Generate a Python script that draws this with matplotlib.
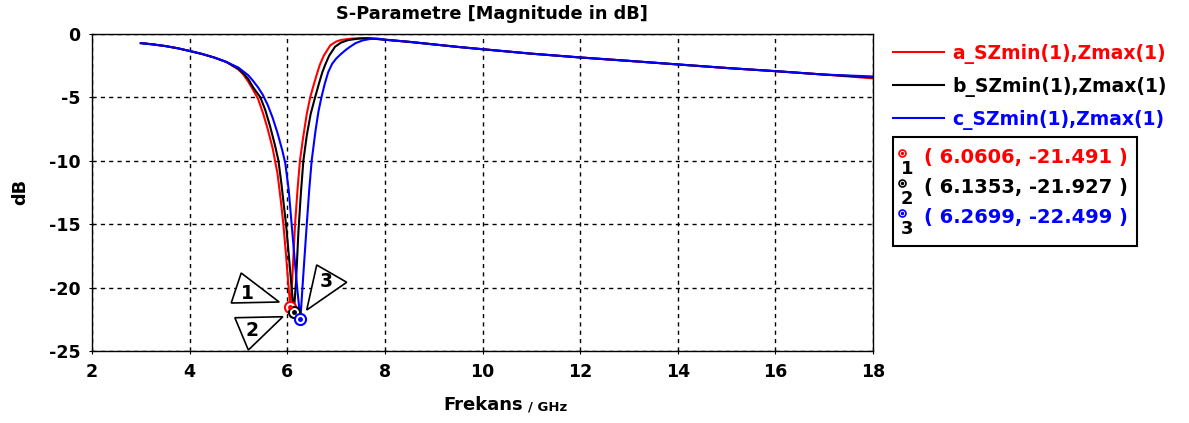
import numpy as np
import matplotlib
matplotlib.use("Agg")
import matplotlib.pyplot as plt
from matplotlib.lines import Line2D
from matplotlib.patches import Polygon, Rectangle
from matplotlib import transforms

plt.rcParams['font.family'] = ['DejaVu Sans']
plt.rcParams['font.weight'] = 'bold'
plt.rcParams['axes.unicode_minus'] = False

# --- data (GHz, dB) ---
start_f = [3.0, 3.25, 3.5, 3.75, 4.0, 4.25, 4.5, 4.75]
start_db = [-0.72, -0.82, -0.95, -1.12, -1.34, -1.57, -1.85, -2.2]
tail_f = [8.0, 8.5, 9.0, 9.5, 10, 11, 12, 13, 14, 15, 16, 17, 18]
tail_db = [-0.45, -0.62, -0.82, -1.02, -1.2, -1.55, -1.85, -2.12, -2.4, -2.68, -2.93, -3.2]

red_f = start_f + [5.0, 5.1, 5.2, 5.3, 5.4, 5.5, 5.6, 5.7, 5.75, 5.8, 5.87, 5.92, 5.97, 6.02, 6.0606,
                   6.10, 6.16, 6.21, 6.26, 6.32, 6.40, 6.47, 6.55, 6.62, 6.67, 6.75, 6.88, 7.0, 7.1, 7.3, 7.5, 7.7] + tail_f
red_db = start_db + [-2.8, -3.2, -3.75, -4.4, -5.1, -6.2, -7.5, -9.0, -10.0, -11.0, -13.2, -15.0, -17.2, -19.6, -21.491,
                     -19.5, -15.0, -12.3, -10.0, -8.3, -6.3, -5.0, -3.9, -3.0, -2.4, -1.7, -0.9, -0.6, -0.47, -0.37, -0.33, -0.34] + tail_db + [-3.5]

blk_f = start_f + [5.0, 5.1, 5.2, 5.3, 5.45, 5.55, 5.65, 5.75, 5.82, 5.88, 5.98, 6.04, 6.09, 6.1353,
                   6.18, 6.23, 6.28, 6.33, 6.40, 6.48, 6.57, 6.65, 6.72, 6.78, 6.86, 6.98, 7.1, 7.25, 7.45, 7.65] + tail_f
blk_db = start_db + [-2.75, -3.1, -3.55, -4.2, -5.0, -6.0, -7.3, -8.8, -10.0, -11.8, -15.2, -17.8, -20.0, -21.927,
                     -19.5, -15.5, -12.5, -10.0, -8.0, -6.3, -5.0, -3.9, -3.0, -2.4, -1.7, -1.0, -0.68, -0.48, -0.37, -0.33] + tail_db + [-3.42]

blu_f = start_f + [5.0, 5.1, 5.2, 5.3, 5.4, 5.5, 5.6, 5.7, 5.8, 5.9, 5.96, 6.03, 6.09, 6.15, 6.21, 6.2699,
                   6.32, 6.40, 6.45, 6.50, 6.58, 6.64, 6.70, 6.77, 6.84, 6.92, 7.0, 7.08, 7.2, 7.29, 7.4, 7.55, 7.7, 7.85] + tail_f
blu_db = start_db + [-2.65, -2.95, -3.25, -3.7, -4.2, -4.8, -5.6, -6.6, -7.8, -9.2, -10.2, -12.3, -15.0, -17.7, -20.3, -22.499,
                     -19.5, -15.0, -12.3, -10.0, -7.6, -6.1, -5.0, -3.9, -3.0, -2.35, -1.95, -1.65, -1.25, -1.0, -0.72, -0.5, -0.39, -0.36] + tail_db + [-3.35]

labels = ['a_SZmin(1),Zmax(1)', 'b_SZmin(1),Zmax(1)', 'c_SZmin(1),Zmax(1)']
colors = ['#ff0000', '#000000', '#0000ff']
mk_f = [6.0606, 6.1353, 6.2699]
mk_db = [-21.491, -21.927, -22.499]

W, H = 1189, 423
fig = plt.figure(figsize=(W / 100, H / 100), dpi=100)
ax = fig.add_axes([92 / W, 1 - 351 / H, (873 - 92) / W, (351 - 34) / H])

series = [(red_f, red_db), (blk_f, blk_db), (blu_f, blu_db)]
lines = []
for (f, db), c, lab in zip(series, colors, labels):
    ln, = ax.plot(f, db, color=c, lw=1.5, label=lab)
    lines.append(ln)

ax.set_xlim(2, 18)
ax.set_ylim(-25, 0)
ax.set_xticks(np.arange(2, 19, 2))
ax.set_yticks(np.arange(-25, 1, 5))
ax.grid(True, color='black', ls=(0, (3, 3)), lw=1)
ax.tick_params(direction='inout', length=5, labelsize=12.5, pad=6)
for sp in ax.spines.values():
    sp.set_linewidth(1)

# markers
for f, d, c in zip(mk_f, mk_db, colors):
    ax.plot(f, d, 'o', ms=8, mfc='white', mec=c, mew=1.5, zorder=5)
    ax.plot(f, d, 'o', ms=2.5, color=c, zorder=6)

# triangle callouts, offsets in pixels from each marker
tris = [[(-49, 33.5), (-59, 3.5), (-11, 4.5)],
        [(-59, -5.7), (-11, -4.7), (-45.5, -38)],
        [(16.3, 54.3), (46.3, 37), (6.3, 9.3)]]
tri_txt = [(-43, 13.5), (-42, -18), (26.3, 37.6)]
for i, (f, d) in enumerate(zip(mk_f, mk_db)):
    tr = fig.dpi_scale_trans + transforms.ScaledTranslation(f, d, ax.transData)
    verts = [(x / 100, y / 100) for x, y in tris[i]]
    ax.add_patch(Polygon(verts, closed=True, fc='white', ec='black', lw=1.2,
                         transform=tr, zorder=7, clip_on=False))
    tx, ty = tri_txt[i]
    ax.text(tx / 100, ty / 100, str(i + 1), transform=tr, ha='center', va='center',
            fontsize=13.5, fontweight='bold', zorder=8)

fig.text(492 / W, 1 - 14 / H, 'S-Parametre [Magnitude in dB]', ha='center', va='center',
         fontsize=12.8, fontweight='bold')
fig.text(20 / W, 1 - 192 / H, 'dB', rotation=90, ha='center', va='center', fontsize=12.8, fontweight='bold')
fig.text(523 / W, 1 - 405 / H, 'Frekans', ha='right', va='center', fontsize=13, fontweight='bold')
fig.text(528 / W, 1 - 407 / H, '/ GHz', ha='left', va='center', fontsize=9.5, fontweight='bold')

# legend
leg = ax.legend(handles=lines, loc='upper left', bbox_to_anchor=(893 / W, 1 - 44 / H),
                bbox_transform=fig.transFigure, frameon=False,
                handlelength=2.7, handletextpad=0.45, labelspacing=0.68, borderaxespad=0, borderpad=0,
                labelcolor='linecolor', prop={'weight': 'bold', 'size': 13.5})

# marker value box
fig.add_artist(Rectangle((893 / W, 1 - 246 / H), (1137 - 893) / W, (246 - 137) / H,
                         transform=fig.transFigure, fill=False, ec='black', lw=1.5))
for i, (f, d, c) in enumerate(zip(mk_f, mk_db, colors)):
    y = 157 + 30 * i
    fig.add_artist(Line2D([902 / W], [1 - (y - 4) / H], marker='o', ms=5, mfc='white', mec=c, mew=1.2,
                          transform=fig.transFigure))
    fig.add_artist(Line2D([902 / W], [1 - (y - 4) / H], marker='o', ms=1.5, color=c,
                          transform=fig.transFigure))
    fig.text(907 / W, 1 - (y + 12) / H, str(i + 1), ha='center', va='center', fontsize=13,
             fontweight='bold', color='black')
    fig.text(924 / W, 1 - y / H, f'( {f:.4f}, {d:.3f} )', ha='left', va='center', fontsize=14,
             fontweight='bold', color=c)

fig.savefig('out.png', dpi=100)
